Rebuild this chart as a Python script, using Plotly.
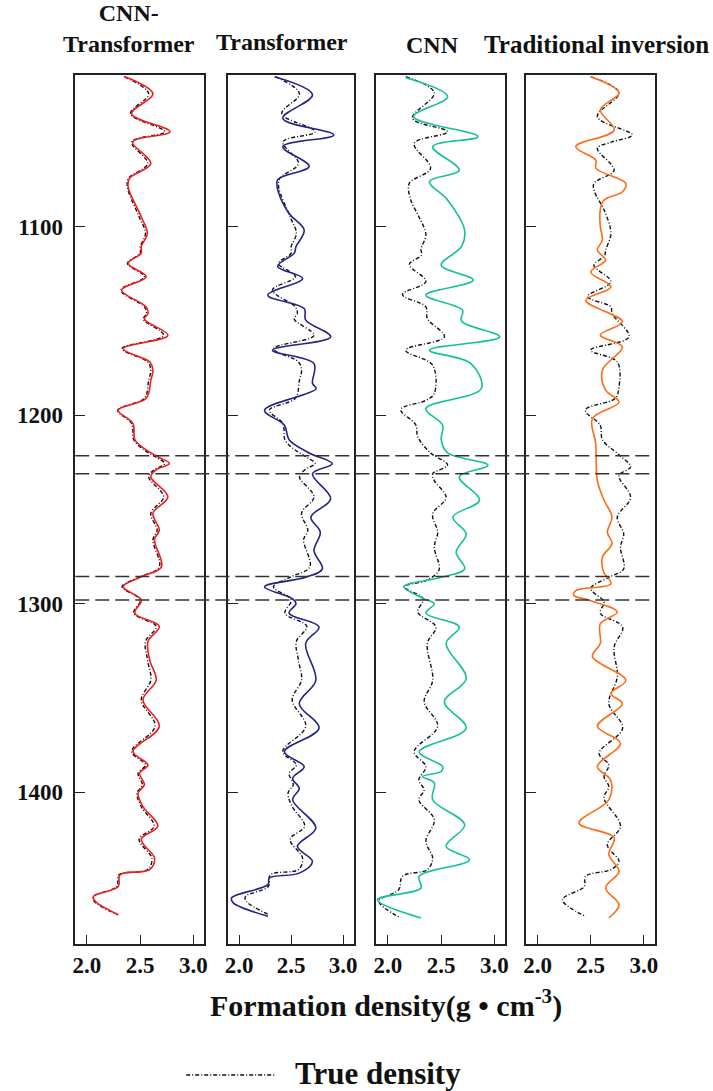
import plotly.graph_objects as go

# ---------------- data ----------------
panel_titles = ["CNN-<br>Transformer", "Transformer", "CNN", "Traditional inversion"]
x_ticks = [2.0, 2.5, 3.0]
depth_ticks = [1100, 1200, 1300, 1400]
marker_depths = [1221.5, 1231.0, 1285.6, 1298.0]

# CNN-Transformer prediction (red) and true density shown in panels 1-2
depth_ct = [1020.4, 1029.5, 1040, 1049.6, 1055, 1066.4, 1074.3, 1079, 1094.7, 1103.5, 1110.6, 1114,
            1119.5, 1126.5, 1133.6, 1142.5, 1146, 1149, 1157.6, 1164.7, 1171.7, 1176, 1181.4, 1191,
            1197.3, 1204.4, 1213, 1217.7, 1222, 1225.6, 1229, 1232.7, 1243.3, 1252, 1261, 1266,
            1280.4, 1285.7, 1291, 1298, 1305, 1312, 1320, 1330, 1340.5, 1351, 1365, 1378.4, 1385.5,
            1390, 1396, 1400.5, 1407.6, 1418, 1425, 1435, 1441, 1443.8, 1450, 1455.3, 1458, 1465]
cnn_transformer = [2.356, 2.62, 2.42, 2.78, 2.43, 2.60, 2.40, 2.387, 2.51, 2.567, 2.51, 2.51,
                   2.387, 2.557, 2.325, 2.557, 2.573, 2.54, 2.76, 2.34, 2.59, 2.62, 2.60, 2.557,
                   2.294, 2.433, 2.45, 2.54, 2.665, 2.774, 2.65, 2.60, 2.76, 2.62, 2.68, 2.635,
                   2.70, 2.51, 2.34, 2.51, 2.45, 2.68, 2.573, 2.59, 2.65, 2.526, 2.68, 2.433, 2.573,
                   2.495, 2.54, 2.48, 2.526, 2.666, 2.51, 2.635, 2.59, 2.31, 2.294, 2.06, 2.08, 2.294]
true_p12 = [2.35, 2.58, 2.41, 2.73, 2.42, 2.57, 2.39, 2.38, 2.49, 2.55, 2.50, 2.50,
            2.38, 2.54, 2.32, 2.54, 2.56, 2.53, 2.72, 2.33, 2.57, 2.60, 2.58, 2.54,
            2.29, 2.42, 2.44, 2.52, 2.64, 2.73, 2.63, 2.58, 2.72, 2.60, 2.66, 2.62,
            2.68, 2.50, 2.33, 2.50, 2.44, 2.65, 2.55, 2.57, 2.60, 2.51, 2.64, 2.42, 2.55,
            2.48, 2.52, 2.47, 2.51, 2.63, 2.49, 2.61, 2.57, 2.30, 2.28, 2.06, 2.07, 2.29]

# Transformer prediction (blue)
depth_tr = [1020.4, 1030, 1042.5, 1051.3, 1057.5, 1068, 1075, 1082, 1093, 1101.8, 1110.6, 1114,
            1121, 1127.4, 1136.3, 1143.4, 1149.5, 1158.4, 1165.5, 1172.6, 1183, 1186, 1197.3,
            1205.3, 1213, 1220, 1225.7, 1231, 1244.4, 1254, 1262, 1271.8, 1281.5, 1286, 1291,
            1297.4, 1300, 1305, 1312.3, 1321, 1340.6, 1353, 1366, 1378.5, 1386.4, 1392.6, 1398,
            1404, 1419, 1428.7, 1436.7, 1442.9, 1445.5, 1449, 1456, 1458.7, 1465.8]
transformer = [2.34, 2.705, 2.42, 2.91, 2.42, 2.673, 2.37, 2.38, 2.48, 2.625, 2.546, 2.53,
               2.37, 2.61, 2.276, 2.625, 2.64, 2.88, 2.32, 2.72, 2.705, 2.74, 2.244,
               2.435, 2.48, 2.673, 2.895, 2.705, 2.88, 2.69, 2.78, 2.72, 2.80, 2.64, 2.244,
               2.514, 2.546, 2.48, 2.768, 2.64, 2.737, 2.578, 2.768, 2.435, 2.625, 2.514, 2.578,
               2.514, 2.737, 2.56, 2.705, 2.578, 2.29, 2.276, 1.927, 1.943, 2.276]

# CNN prediction (green) and true density as drawn in panel 3
depth_cnn = [1021, 1031, 1041.6, 1052.2, 1057.5, 1070, 1076, 1085.8, 1101.8, 1110.6, 1120.4, 1128.3,
             1136.3, 1144.2, 1150, 1158.4, 1165.5, 1172.6, 1185.8, 1196.5, 1205.3, 1213, 1220,
             1226.5, 1232.7, 1245, 1254, 1263, 1272.7, 1281.5, 1286, 1291, 1297.4, 1300, 1305,
             1312.3, 1321, 1339.7, 1352, 1366, 1378.5, 1386.4, 1389, 1391.7, 1395, 1404, 1417.3,
             1428.7, 1435.8, 1444.6, 1450.8, 1457, 1466.7]
cnn = [2.167, 2.56, 2.24, 2.845, 2.42, 2.67, 2.39, 2.56, 2.72, 2.69, 2.50, 2.80,
       2.356, 2.70, 2.69, 3.05, 2.39, 2.78, 2.877, 2.356, 2.514, 2.50, 2.56,
       2.94, 2.67, 2.86, 2.61, 2.735, 2.64, 2.72, 2.50, 2.15, 2.34, 2.435, 2.356,
       2.67, 2.546, 2.735, 2.53, 2.735, 2.293, 2.514, 2.50, 2.325, 2.435, 2.42, 2.72,
       2.546, 2.767, 2.293, 2.31, 1.90, 2.31]
depth_t3 = [1020.4, 1029, 1042.5, 1049.6, 1055.8, 1069, 1077, 1085.8, 1094.7, 1104, 1112, 1115, 1120,
            1129, 1136, 1142.5, 1148.7, 1158.4, 1165.5, 1173.5, 1188.5, 1192, 1197, 1205, 1211.5,
            1220, 1226.5, 1231, 1234.7, 1243.6, 1252.4, 1262, 1270, 1282, 1287.7, 1291, 1297.4,
            1304.4, 1312.3, 1321, 1340.6, 1352, 1365, 1378.5, 1386.4, 1393.5, 1398.8, 1404, 1414.6,
            1426, 1435, 1441, 1444.6, 1451.7, 1457.8, 1466.7]
true_p3 = [2.167, 2.435, 2.23, 2.56, 2.246, 2.40, 2.20, 2.214, 2.29, 2.356, 2.31, 2.315, 2.20,
           2.356, 2.136, 2.356, 2.37, 2.53, 2.167, 2.42, 2.435, 2.36, 2.12, 2.26, 2.28,
           2.40, 2.56, 2.42, 2.435, 2.546, 2.42, 2.467, 2.435, 2.48, 2.356, 2.15, 2.33,
           2.28, 2.45, 2.37, 2.42, 2.34, 2.467, 2.246, 2.356, 2.29, 2.34, 2.29, 2.435,
           2.356, 2.42, 2.37, 2.136, 2.10, 1.915, 2.12]

# Traditional inversion (orange) and true density as drawn in panel 4
depth_ti = [1020.4, 1029, 1038, 1048.7, 1057.5, 1064.6, 1069, 1077, 1081.4, 1085.8, 1091, 1100, 1107,
            1112.4, 1117.7, 1124, 1131.9, 1139, 1150.4, 1157.5, 1163.7, 1176, 1186.7, 1193, 1201.8,
            1215, 1234.7, 1245, 1254, 1262, 1268, 1275.3, 1283, 1289.4, 1293, 1295.6, 1298, 1304.4,
            1310.6, 1321, 1328, 1340.6, 1347.6, 1353, 1365, 1374, 1386.4, 1393.5, 1404, 1416.4,
            1424, 1433, 1442, 1450.8, 1459.6, 1466.7]
traditional = [2.50, 2.766, 2.59, 2.72, 2.36, 2.547, 2.55, 2.83, 2.80, 2.625, 2.59, 2.59, 2.61,
               2.5625, 2.64, 2.50, 2.69, 2.453, 2.797, 2.59, 2.797, 2.61, 2.64, 2.766, 2.516,
               2.547, 2.5625, 2.625, 2.70, 2.656, 2.70, 2.61, 2.62, 2.69, 2.36, 2.34, 2.48, 2.75,
               2.59, 2.59, 2.516, 2.83, 2.69, 2.797, 2.5625, 2.78, 2.5625, 2.6875, 2.67, 2.39,
               2.72, 2.67, 2.766, 2.64, 2.766, 2.67]
depth_t4 = [1020.4, 1029, 1041.6, 1051.3, 1055, 1058.4, 1070, 1077, 1082, 1091, 1103.5, 1112.4,
            1115.5, 1120.4, 1129.2, 1137, 1142.5, 1146, 1158.4, 1165.5, 1171.7, 1185, 1191, 1197.3,
            1205.3, 1213, 1221, 1227.4, 1232, 1243.6, 1254, 1263, 1270, 1281.5, 1286, 1292, 1299,
            1305, 1312.3, 1323, 1338.8, 1353, 1366, 1379.4, 1385.5, 1391.7, 1397, 1403, 1418,
            1427.9, 1436.7, 1441, 1444.6, 1450, 1457, 1465.8]
true_p4 = [2.50, 2.766, 2.5625, 2.89, 2.70, 2.5625, 2.72, 2.53, 2.54, 2.625, 2.69, 2.64,
           2.63, 2.53, 2.69, 2.47, 2.69, 2.70, 2.86, 2.50, 2.75, 2.766, 2.73, 2.45,
           2.59, 2.61, 2.766, 2.875, 2.766, 2.875, 2.75, 2.81, 2.78, 2.81, 2.67, 2.50, 2.625,
           2.59, 2.80, 2.72, 2.75, 2.67, 2.80, 2.578, 2.67, 2.625, 2.67, 2.625, 2.78,
           2.656, 2.766, 2.69, 2.45, 2.44, 2.234, 2.45]

# ---------------- styling / layout ----------------
W, H = 713, 1091
FONT = "Liberation Serif"
panels_px = [(73, 203), (227, 354), (377, 507), (528, 658)]
top_px, bottom_px = 75, 944
x_range = [1.89, 3.10]
y_range = [1480.5, 1019.5]
colors = ["#f01c22", "#23238c", "#14bf9d", "#ff6a16"]
true_dash = "4px,2px,1px,2px"

panel_series = [
    (depth_ct, true_p12, depth_ct, cnn_transformer),
    (depth_ct, true_p12, depth_tr, transformer),
    (depth_t3, true_p3, depth_cnn, cnn),
    (depth_t4, true_p4, depth_ti, traditional),
]

fig = go.Figure()
for i, (dt, tv, dp, pv) in enumerate(panel_series):
    xa = "x" if i == 0 else f"x{i+1}"
    ya = "y" if i == 0 else f"y{i+1}"
    fig.add_trace(go.Scatter(x=tv, y=dt, mode="lines", xaxis=xa, yaxis=ya, name="True density",
                             showlegend=False,
                             line=dict(color="#111111", width=1.4, dash=true_dash,
                                       shape="spline", smoothing=1.0)))
    fig.add_trace(go.Scatter(x=pv, y=dp, mode="lines", xaxis=xa, yaxis=ya,
                             name=panel_titles[i].replace("<br>", ""), showlegend=False,
                             line=dict(color=colors[i], width=1.6, shape="spline", smoothing=1.0)))

layout = dict(width=W, height=H, margin=dict(l=0, r=0, t=0, b=0),
              paper_bgcolor="white", plot_bgcolor="white", showlegend=False)
ydom = [1 - bottom_px / H, 1 - top_px / H]
for i, (x0, x1) in enumerate(panels_px):
    xk = "xaxis" if i == 0 else f"xaxis{i+1}"
    yk = "yaxis" if i == 0 else f"yaxis{i+1}"
    xa = "x" if i == 0 else f"x{i+1}"
    ya = "y" if i == 0 else f"y{i+1}"
    layout[xk] = dict(domain=[x0 / W, x1 / W], range=x_range, anchor=ya,
                      tickvals=x_ticks, ticktext=[f"{v:.1f}" for v in x_ticks],
                      ticks="inside", ticklen=9, tickwidth=1.4, tickcolor="#222",
                      showline=True, linecolor="#222", linewidth=1.5, mirror=True,
                      showgrid=False, zeroline=False,
                      tickfont=dict(family=FONT, size=23, color="#111", weight="bold"))
    layout[yk] = dict(domain=ydom, range=y_range, anchor=xa,
                      tickvals=depth_ticks, ticks="inside", ticklen=10, tickwidth=1.4,
                      tickcolor="#222", showline=True, linecolor="#222", linewidth=1.5,
                      mirror=True, showgrid=False, zeroline=False,
                      showticklabels=(i == 0), ticklabelstandoff=6,
                      tickfont=dict(family=FONT, size=23, color="#111", weight="bold"))
fig.update_layout(**layout)

# horizontal dashed marker lines spanning all panels
for d in marker_depths:
    fig.add_shape(type="line", xref="paper", yref="y", x0=panels_px[0][0] / W, x1=panels_px[3][1] / W,
                  y0=d, y1=d, line=dict(color="#333", width=1.5, dash="14px,6px"))

# panel titles
title_pos = [(127, 28), (282, 42), (434, 45), (599, 45)]
title_size = [24, 24, 24, 25]
for (cx, cy), t, s in zip(title_pos, panel_titles, title_size):
    fig.add_annotation(x=cx / W, y=1 - cy / H, xref="paper", yref="paper", text=f"<b>{t}</b>",
                       showarrow=False, xanchor="center", yanchor="middle",
                       font=dict(family=FONT, size=s, color="#111"))

# axis title
fig.add_annotation(x=387 / W, y=1 - 1003 / H, xref="paper", yref="paper",
                   text="<b>Formation density(g • cm<sup>-3</sup>)</b>", showarrow=False,
                   xanchor="center", yanchor="middle", font=dict(family=FONT, size=30, color="#111"))

# legend key
fig.add_shape(type="line", xref="paper", yref="paper", x0=185 / W, x1=275 / W,
              y0=1 - 1075 / H, y1=1 - 1075 / H, line=dict(color="#111", width=1.3, dash=true_dash))
fig.add_annotation(x=293 / W, y=1 - 1073 / H, xref="paper", yref="paper", text="<b>True density</b>",
                   showarrow=False, xanchor="left", yanchor="middle",
                   font=dict(family=FONT, size=31, color="#111"))

fig.write_html("out.html", config={"displayModeBar": False},
               post_script="document.body.style.margin='0';document.body.style.overflow='hidden';")
